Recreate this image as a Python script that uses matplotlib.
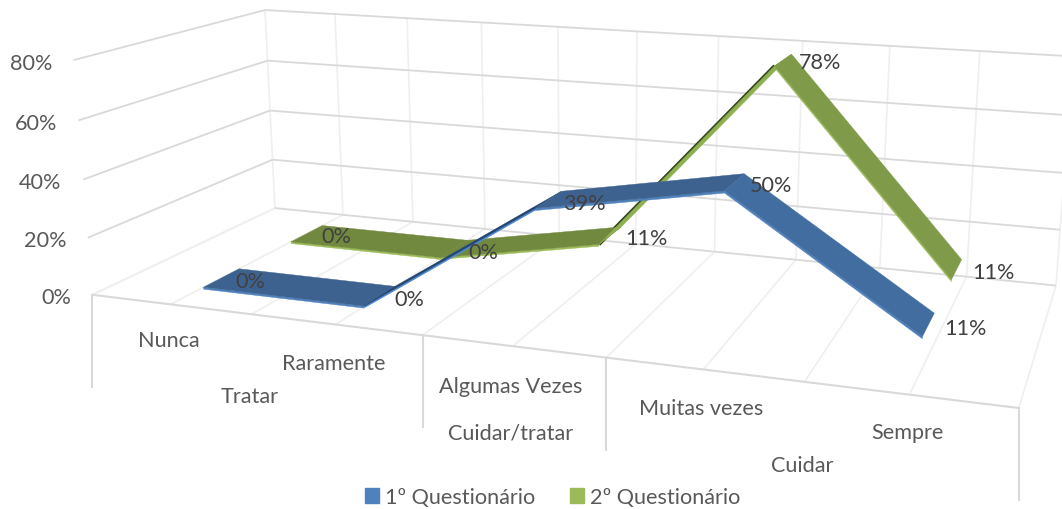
import numpy as np
import matplotlib
matplotlib.use("Agg")
import matplotlib.pyplot as plt
from matplotlib.patches import Patch

plt.rcParams['font.family'] = ['Lato', 'DejaVu Sans']

# ---- data ----
categories = ['Nunca', 'Raramente', 'Algumas Vezes', 'Muitas vezes', 'Sempre']
groups = ['Tratar', 'Cuidar/tratar', 'Cuidar']
group_spans = [(0, 2), (2, 3), (3, 5)]
series_names = ['1º Questionário', '2º Questionário']
q1_values = [0.00, 0.00, 0.39, 0.50, 0.11]
q2_values = [0.00, 0.00, 0.11, 0.78, 0.11]
y_ticks = [0.0, 0.2, 0.4, 0.6, 0.8]

# ---- camera: model (x, value, depth) -> pixels, fitted from the frame ----
_model = np.array([
    (0, 0, 0), (0, .8, 0), (0, 0, 1), (0, .8, 1), (5, 0, 0), (5, 0, 1), (5, .8, 1),
    (2.5, 0, 0), (2.5, .8, 1), (1, 0, 0), (4, 0, 0), (1, .8, 1), (4, .8, 1),
    (0, .4, 1), (0, .4, 0)], float)
_pix = np.array([
    (92.7, 295.7), (73.3, 61.3), (275, 209.3), (265.7, 10.7), (1019, 409), (1056, 287), (1072, 57),
    (512, 347), (637, 32), (252, 315), (804.7, 382.7), (407, 20), (890.7, 47),
    (269.3, 111), (83, 181)], float)
_A = []
for (X, Y, Z), (u, v) in zip(_model, _pix):
    _A.append([X, Y, Z, 1, 0, 0, 0, 0, -u * X, -u * Y, -u * Z, -u])
    _A.append([0, 0, 0, 0, X, Y, Z, 1, -v * X, -v * Y, -v * Z, -v])
CAM = np.linalg.svd(np.array(_A))[2][-1].reshape(3, 4)


def project(x, val, d):
    h = CAM @ np.array([x, val, d, 1.0])
    return h[0] / h[2], h[1] / h[2]


fig = plt.figure(figsize=(10.62, 5.10), dpi=100)
ax = fig.add_axes([0, 0, 1, 1])
ax.set_xlim(0, 1062)
ax.set_ylim(510, 0)
ax.axis('off')


def line3(a, b, color, lw, z=1):
    pa, pb = project(*a), project(*b)
    ax.plot([pa[0], pb[0]], [pa[1], pb[1]], color=color, lw=lw, zorder=z,
            solid_capstyle='butt')


GRID = '#d9d9d9'
LIGHT = '#efefef'
X_MAX = 5.0
# vertical & floor gridlines at half-category steps
for gx in np.arange(0, X_MAX + 0.01, 0.5):
    line3((gx, 0, 0), (gx, 0, 1), LIGHT, 1.2)
    line3((gx, 0, 1), (gx, .8, 1), LIGHT, 1.2)
for t in y_ticks:
    line3((0, t, 1), (X_MAX, t, 1), GRID, 1.3, 2)
    line3((0, t, 0), (0, t, 1), LIGHT if t == 0 else GRID, 1.3, 2)
line3((0, 0, 0), (X_MAX, 0, 0), GRID, 1.5, 3)

# drop lines separating the axis groups
DROP = 92
for gx in sorted({s for sp in group_spans for s in sp}):
    px, py = project(gx, 0, 0)
    ax.plot([px, px], [py, py + DROP], color=GRID, lw=1.5, zorder=3)

centres = [i + 0.5 for i in range(len(categories))]
THICK = 0.007


def ribbon(values, d_front, d_back, flat, down, up, edge, up_edge, z):
    for i in range(len(values) - 1):
        x0, x1 = centres[i], centres[i + 1]
        v0, v1 = values[i], values[i + 1]
        dv = v1 - v0
        rising = dv > 0.2
        col = up if rising else (down if dv < -0.2 else flat)
        top = [project(x0, v0, d_front), project(x0, v0, d_back),
               project(x1, v1, d_back), project(x1, v1, d_front)]
        if rising:
            line3((x0, v0, d_front), (x1, v1, d_front), up_edge, 2.6, z)
        else:
            strip = [project(x0, v0, d_front), project(x1, v1, d_front),
                     project(x1, v1 - THICK, d_front), project(x0, v0 - THICK, d_front)]
            ax.fill(*zip(*strip), color=edge, lw=0.3, zorder=z)
        ax.fill(*zip(*top), color=col, lw=0.3, zorder=z + 0.1)


ribbon(q2_values, 0.66, 0.86, '#71893f', '#7f9a48', '#8db050', '#9bbb59', '#35451c', 5)
ribbon(q1_values, 0.165, 0.355, '#3e6290', '#426da0', '#26456e', '#4f81bd', '#4f8ad0', 6)

# data labels
TXT = '#404040'
AX = '#595959'
FS = 15.6
for vals, dm in ((q1_values, 0.25), (q2_values, 0.75)):
    for cx, v in zip(centres, vals):
        ax.annotate(f'{round(v * 100)}%', project(cx, v, dm), xytext=(16, -2),
                    textcoords='offset pixels', ha='left', va='center',
                    fontsize=FS, color=TXT, zorder=10)

# value axis labels
for t in y_ticks:
    ax.annotate(f'{round(t * 100)}%', project(0, t, 0), xytext=(-21.5, -2.5),
                textcoords='offset pixels', ha='right', va='center',
                fontsize=FS, color=AX)

# category axis labels
for cx, name, off in zip(centres, categories, (36, 38, 40, 39, 37)):
    ax.annotate(name, project(cx, 0, 0), xytext=(-2, -off),
                textcoords='offset pixels', ha='center', va='center',
                fontsize=FS, color=AX)
for (a, b), name, off in zip(group_spans, groups, (82, 86, 83)):
    ax.annotate(name, project((a + b) / 2, 0, 0), xytext=(-2, -off),
                textcoords='offset pixels', ha='center', va='center',
                fontsize=FS, color=AX)

handles = [Patch(color='#4f81bd', label=series_names[0]),
           Patch(color='#9bbb59', label=series_names[1])]
fig.legend(handles=handles, ncol=2, loc='center', bbox_to_anchor=(552.5 / 1062, 1 - 498 / 510),
           frameon=False, fontsize=FS, labelcolor=AX, handlelength=0.67, handleheight=0.67,
           handletextpad=0.25, columnspacing=1.6, borderpad=0, borderaxespad=0)

fig.savefig('out.png', dpi=100)
